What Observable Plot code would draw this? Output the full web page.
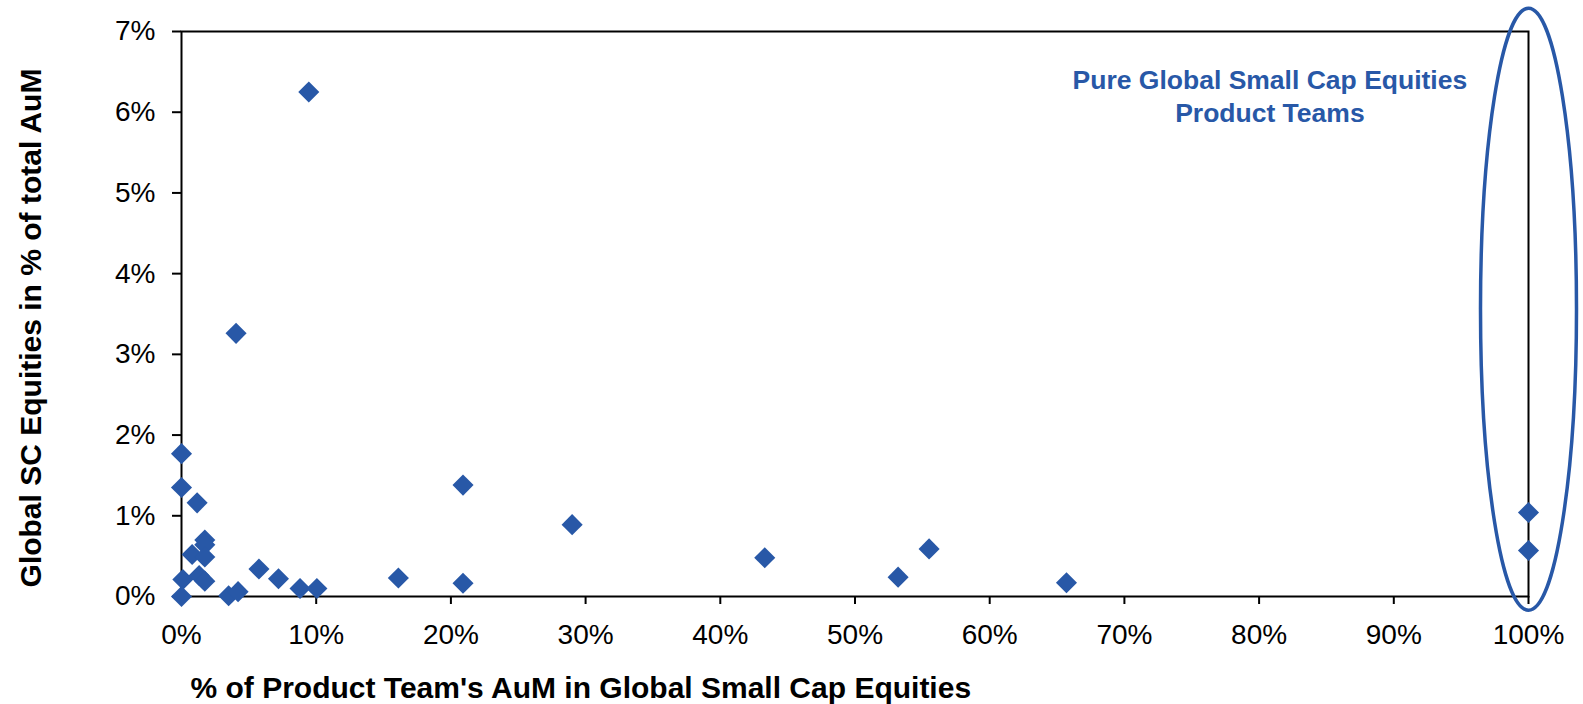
<!DOCTYPE html>
<html>
<head>
<meta charset="utf-8">
<script src="https://cdn.jsdelivr.net/npm/d3@7"></script>
<script src="https://cdn.jsdelivr.net/npm/@observablehq/plot@0.6"></script>
<style>
  html, body { margin: 0; background: #fff; overflow: hidden; }
  svg { display: block; }
</style>
</head>
<body>
<div id="vis"></div>
<script>
// % of each product team's AuM in global small cap equities
const shareInGSC = [9.45, 4.05, 0, 0, 1.16, 1.73, 1.73, 0.79, 1.73, 0.1, 1.31, 1.73, 0, 3.5, 4.2,
  5.75, 7.2, 8.8, 10.05, 16.1, 20.9, 20.9, 29.0, 43.3, 53.2, 55.5, 65.7, 100, 100]
// global SC equities as % of total AuM
const gscOfAuM = [6.25, 3.26, 1.77, 1.35, 1.16, 0.70, 0.64, 0.52, 0.49, 0.21, 0.26, 0.19, 0, 0.01, 0.06,
  0.34, 0.22, 0.10, 0.10, 0.23, 1.38, 0.165, 0.89, 0.48, 0.24, 0.59, 0.17, 1.04, 0.57]

const xTicks = [0, 10, 20, 30, 40, 50, 60, 70, 80, 90, 100]
const yTicks = [0, 1, 2, 3, 4, 5, 6, 7]

const xLabel = "% of Product Team's AuM in Global Small Cap Equities"
const yLabel = "Global SC Equities in % of total AuM"
const note = [{text: "Pure Global Small Cap Equities\nProduct Teams", x: 80.8, y: 6.21}]
const pureTeams = [{x: 100, y: 3.56}]

const blue = '#2858a7'

const data = shareInGSC.map((x, i) => ({x, y: gscOfAuM[i]}))

// tall ellipse drawn as a custom symbol round the 100% teams
const ellipse = {
  draw(ctx) {
    const rx = 48, ry = 301, k = 0.5523
    ctx.moveTo(rx, 0)
    ctx.bezierCurveTo(rx, ry * k, rx * k, ry, 0, ry)
    ctx.bezierCurveTo(-rx * k, ry, -rx, ry * k, -rx, 0)
    ctx.bezierCurveTo(-rx, -ry * k, -rx * k, -ry, 0, -ry)
    ctx.bezierCurveTo(rx * k, -ry, rx, -ry * k, rx, 0)
    ctx.closePath()
  }
}

let chart = Plot.plot({
  width: 1583,
  height: 704,
  marginLeft: 181,
  marginRight: 55,
  marginTop: 31,
  marginBottom: 108,
  x: {domain: [0, 100]},
  y: {domain: [0, 7]},
  marks: [
    Plot.axisX({ticks: xTicks, tickFormat: d => d + '%', tickSize: 8, tickPadding: 20, strokeWidth: 2, label: null}),
    Plot.axisY({ticks: yTicks, tickFormat: d => d + '%', tickSize: 9, tickPadding: 17, strokeWidth: 2, label: null}),
    Plot.frame({stroke: '#000', strokeWidth: 2}),
    Plot.dot(data, {x: 'x', y: 'y', symbol: 'diamond2', r: 9.5, fill: blue, stroke: 'none'}),
    Plot.dot(pureTeams, {x: 'x', y: 'y', symbol: ellipse, fill: 'none', stroke: blue, strokeWidth: 3.5}),
    Plot.text(note, {x: 'x', y: 'y', text: 'text', fill: blue, fontWeight: 'bold', fontSize: 26.5, lineHeight: 1.245}),
    Plot.text([yLabel], {text: d => d, frameAnchor: 'left', textAnchor: 'middle', rotate: -90, dx: -150, dy: 14, fontWeight: 'bold', fontSize: 30}),
    Plot.text([xLabel], {text: d => d, frameAnchor: 'bottom-left', textAnchor: 'start', dx: 9, dy: 101, fontWeight: 'bold', fontSize: 30}),
  ],
  style: {
    fontSize: '28px',
    fontFamily: 'Liberation Sans, Arial, sans-serif',
    color: '#000',
    background: '#fff',
  },
})
d3.select('#vis').append(() => chart)
</script>
</body>
</html>
